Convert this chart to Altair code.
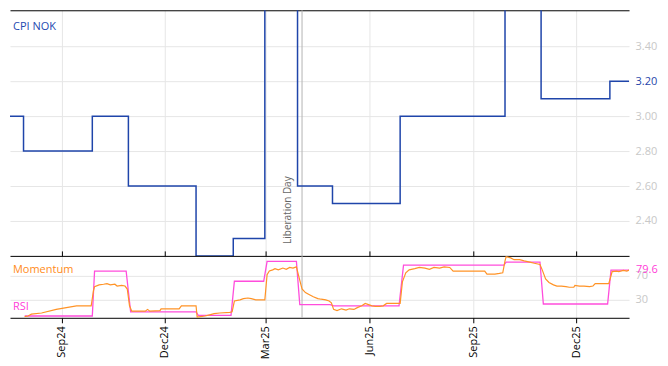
import altair as alt
import pandas as pd

# ---------------- data ----------------
series_names = ["CPI NOK", "Momentum", "RSI"]
series_colors = ["#1f45aa", "#ff9326", "#ff4ddc"]
label_colors = ["#2449b0", "#ff8c1a", "#ff40d8"]

cpi_dates = ["2024-07-17", "2024-07-29", "2024-09-28", "2024-10-30", "2024-12-29",
             "2025-01-31", "2025-02-28", "2025-03-29", "2025-04-29", "2025-06-28",
             "2025-09-29", "2025-10-31", "2025-12-31", "2026-01-17"]
cpi_values = [3.0, 2.8, 3.0, 2.6, 2.2, 2.3, 3.7, 2.6, 2.5, 3.0, 3.8, 3.1, 3.2, 3.2]

rsi_dates = ["2024-07-30", "2024-09-28", "2024-09-30", "2024-10-28", "2024-11-01",
             "2024-12-29", "2024-12-31", "2025-01-29", "2025-02-01", "2025-02-27",
             "2025-03-02", "2025-03-28", "2025-03-31", "2025-04-27", "2025-04-30",
             "2025-06-27", "2025-07-01", "2025-09-28", "2025-09-30", "2025-10-30",
             "2025-11-02", "2025-12-29", "2026-01-01", "2026-01-17"]
rsi_values = [3, 3, 78, 78, 10, 10, 4, 4, 61, 61, 94, 94, 22, 22, 20, 20,
              88, 88, 93, 93, 23, 23, 79.6, 79.6]

mom_dates = ["2024-07-30", "2024-08-02", "2024-08-05", "2024-08-14", "2024-08-27",
             "2024-09-14", "2024-09-27", "2024-09-29", "2024-09-30", "2024-10-04",
             "2024-10-08", "2024-10-11", "2024-10-14", "2024-10-18", "2024-10-20",
             "2024-10-24", "2024-10-27", "2024-10-29", "2024-10-31", "2024-11-02",
             "2024-11-14", "2024-11-16", "2024-11-18", "2024-11-27", "2024-11-28",
             "2024-12-14", "2024-12-16", "2024-12-29", "2024-12-30", "2025-01-02",
             "2025-01-06", "2025-01-10", "2025-01-14", "2025-01-19", "2025-01-28",
             "2025-01-30", "2025-02-01", "2025-02-06", "2025-02-09", "2025-02-13",
             "2025-02-16", "2025-02-20", "2025-02-28", "2025-03-02", "2025-03-04",
             "2025-03-07", "2025-03-09", "2025-03-12", "2025-03-16", "2025-03-19",
             "2025-03-22", "2025-03-25", "2025-03-28", "2025-03-30", "2025-04-02",
             "2025-04-05", "2025-04-09", "2025-04-12", "2025-04-16", "2025-04-19",
             "2025-04-23", "2025-04-26", "2025-04-28", "2025-04-30", "2025-05-03",
             "2025-05-07", "2025-05-11", "2025-05-14", "2025-05-18", "2025-05-21",
             "2025-05-25", "2025-05-28", "2025-05-31", "2025-06-03", "2025-06-06",
             "2025-06-10", "2025-06-13", "2025-06-16", "2025-06-23", "2025-06-28",
             "2025-06-30", "2025-07-03", "2025-07-06", "2025-07-11", "2025-07-15",
             "2025-07-20", "2025-07-24", "2025-07-28", "2025-08-02", "2025-08-06",
             "2025-08-11", "2025-08-14", "2025-08-20", "2025-08-29", "2025-09-06",
             "2025-09-11", "2025-09-13", "2025-09-20", "2025-09-24", "2025-09-27",
             "2025-09-29", "2025-09-30", "2025-10-04", "2025-10-07", "2025-10-12",
             "2025-10-16", "2025-10-21", "2025-10-25", "2025-10-30", "2025-11-01",
             "2025-11-04", "2025-11-07", "2025-11-11", "2025-11-14", "2025-11-18",
             "2025-11-22", "2025-11-25", "2025-11-29", "2025-11-30", "2025-12-04",
             "2025-12-08", "2025-12-13", "2025-12-16", "2025-12-18", "2025-12-26",
             "2025-12-30", "2026-01-01", "2026-01-02", "2026-01-06", "2026-01-08",
             "2026-01-12", "2026-01-15", "2026-01-17"]
mom_values = [2, 3, 6, 8, 14,
              20, 20, 45, 52, 55,
              56, 57, 55, 56, 53,
              54, 53, 48, 20, 11,
              11, 14, 11, 12, 15,
              15, 20, 20, 1, 2,
              3, 5, 7, 8, 9,
              10, 28, 30, 32, 33,
              32, 30, 30, 72, 78,
              80, 82, 80, 83, 81,
              84, 83, 85, 70, 48,
              42, 38, 35, 32, 31,
              30, 28, 25, 14, 12,
              15, 13, 15, 14, 17,
              20, 24, 22, 20, 19,
              19, 20, 24, 24, 24,
              60, 75, 80, 82, 84,
              83, 81, 84, 83, 85,
              84, 78, 78, 78, 78,
              78, 73, 73, 74, 75,
              95, 102, 100, 97, 97,
              95, 93, 91, 89, 80,
              65, 59, 55, 53, 53,
              52, 51, 51, 54, 53,
              53, 52, 53, 57, 57,
              57, 70, 77, 78, 77,
              79, 78, 79.6]

x_domain = ["2024-07-17", "2026-01-17"]
x_tick_dates = ["2024-09-01", "2024-12-01", "2025-03-01", "2025-06-01", "2025-09-01", "2025-12-01"]
cpi_domain = [2.2, 3.606]
cpi_ticks = [2.4, 2.6, 2.8, 3.0, 3.2, 3.4]
osc_domain = [0, 103.3]
osc_ticks = [30, 70]
event_dates = ["2025-04-02"]
event_labels = ["Liberation Day"]

# ---------------- styling ----------------
W, H1, H2 = 620, 246, 62
GRID = "#e6e6e6"
TICKLABEL = "#c8c8c8"
FONT = "Open Sans"


def dt(s):
    y, m, d = (int(v) for v in s.split("-"))
    return alt.DateTime(year=y, month=m, date=d, utc=True)


x_scale = alt.Scale(type="utc", domain=[dt(s) for s in x_domain])
tick_vals = [dt(s) for s in x_tick_dates]

top_x_axis = alt.Axis(orient="top", values=tick_vals, labels=False, ticks=False,
                      domain=True, domainColor="black", domainWidth=1,
                      grid=True, gridColor=GRID)
bottom_x_axis = alt.Axis(orient="bottom", values=tick_vals, format="%b%y",
                         labelAngle=270, labelFontSize=11, labelColor="black",
                         labelFont=FONT, labelPadding=3,
                         tickColor="black", tickSize=5, domain=True,
                         domainColor="black", grid=True, gridColor=GRID)
bottom_top_axis = alt.Axis(orient="top", values=tick_vals, labels=False,
                           ticks=True, tickSize=5, tickColor="black",
                           domain=True, domainColor="black", grid=False)

last_cpi = cpi_values[-1]
cpi_y_axis = alt.Axis(orient="right", values=cpi_ticks, format=".2f",
                      labelColor={"condition": {"test": f"abs(datum.value - {last_cpi}) < 1e-6",
                                                "value": series_colors[0]},
                                  "value": TICKLABEL},
                      labelFontSize=11, labelFont=FONT, labelPadding=6,
                      ticks=False, domain=False, grid=True, gridColor=GRID)
osc_y_axis = alt.Axis(orient="right", values=osc_ticks, labelColor=TICKLABEL,
                      labelFontSize=11, labelFont=FONT, labelPadding=6,
                      labelOverlap=False,
                      ticks=False, domain=False, grid=True, gridColor=GRID)
cpi_scale = alt.Scale(domain=cpi_domain, nice=False, zero=False)
osc_scale = alt.Scale(domain=osc_domain, nice=False, zero=False)

X_TOP = alt.X("date:T", scale=x_scale, axis=top_x_axis, title=None)
X_BOT = alt.X("date:T", scale=x_scale, axis=bottom_x_axis, title=None)
Y_OSC = alt.Y("value:Q", scale=osc_scale, axis=osc_y_axis, title=None)

# ---------------- top panel ----------------
cpi_df = pd.DataFrame({"date": cpi_dates, "value": cpi_values})
cpi_line = alt.Chart(cpi_df).mark_line(
    color=series_colors[0], strokeWidth=1.5, interpolate="step-after", clip=True
).encode(
    x=X_TOP,
    y=alt.Y("value:Q", scale=cpi_scale, axis=cpi_y_axis, title=None),
)

ev_df = pd.DataFrame({"date": event_dates, "label": event_labels})
ev_rule_top = alt.Chart(ev_df).mark_rule(color="#b4b4b4", strokeWidth=1).encode(x=X_TOP)
ev_text = alt.Chart(ev_df).mark_text(
    angle=270, align="left", baseline="alphabetic", dy=-11, fontSize=10,
    color="#666666", font=FONT
).encode(x=X_TOP, y=alt.value(H1 - 12), text="label:N")
lbl_cpi = alt.Chart(pd.DataFrame({"label": [series_names[0]]})).mark_text(
    align="left", baseline="alphabetic", color=label_colors[0], fontSize=11, font=FONT
).encode(x=alt.value(3), y=alt.value(20), text="label:N")

top = alt.layer(ev_rule_top, cpi_line, ev_text, lbl_cpi).properties(width=W, height=H1)

# ---------------- bottom panel ----------------
rsi_df = pd.DataFrame({"date": rsi_dates, "value": rsi_values})
mom_df = pd.DataFrame({"date": mom_dates, "value": mom_values})

rsi_line = alt.Chart(rsi_df).mark_line(color=series_colors[2], strokeWidth=1.3, clip=True).encode(
    x=X_BOT, y=Y_OSC)
mom_line = alt.Chart(mom_df).mark_line(color=series_colors[1], strokeWidth=1.2, clip=True).encode(
    x=X_BOT, y=Y_OSC)
last_df = pd.DataFrame({"date": [rsi_dates[-1]], "value": [rsi_values[-1]]})
last_lbl = alt.Chart(last_df).mark_text(
    align="left", baseline="middle", dx=7, color=label_colors[2], fontSize=11, font=FONT
).encode(x=X_BOT, y=Y_OSC, text=alt.Text("value:Q", format=".1f"))
lbl_mom = alt.Chart(pd.DataFrame({"label": [series_names[1]]})).mark_text(
    align="left", baseline="alphabetic", color=label_colors[1], fontSize=11, font=FONT
).encode(x=alt.value(3), y=alt.value(17), text="label:N")
lbl_rsi = alt.Chart(pd.DataFrame({"label": [series_names[2]]})).mark_text(
    align="left", baseline="alphabetic", color=label_colors[2], fontSize=11, font=FONT
).encode(x=alt.value(3), y=alt.value(54), text="label:N")

osc_layer = alt.layer(rsi_line, mom_line, last_lbl, lbl_mom, lbl_rsi)
ev_rule_bot = alt.Chart(ev_df).mark_rule(color="#b4b4b4", strokeWidth=1).encode(
    x=alt.X("date:T", scale=x_scale, axis=bottom_top_axis, title=None)
)

bottom = alt.layer(ev_rule_bot, osc_layer).resolve_axis(x="independent").properties(
    width=W, height=H2)

chart = alt.vconcat(top, bottom, spacing=0, bounds="flush").properties(
    padding={"left": 2, "top": 1, "right": 2, "bottom": 2}
).configure(font=FONT).configure_view(strokeWidth=0, stroke="transparent")

chart.save("out.html", embed_options={"renderer": "svg", "actions": False})
